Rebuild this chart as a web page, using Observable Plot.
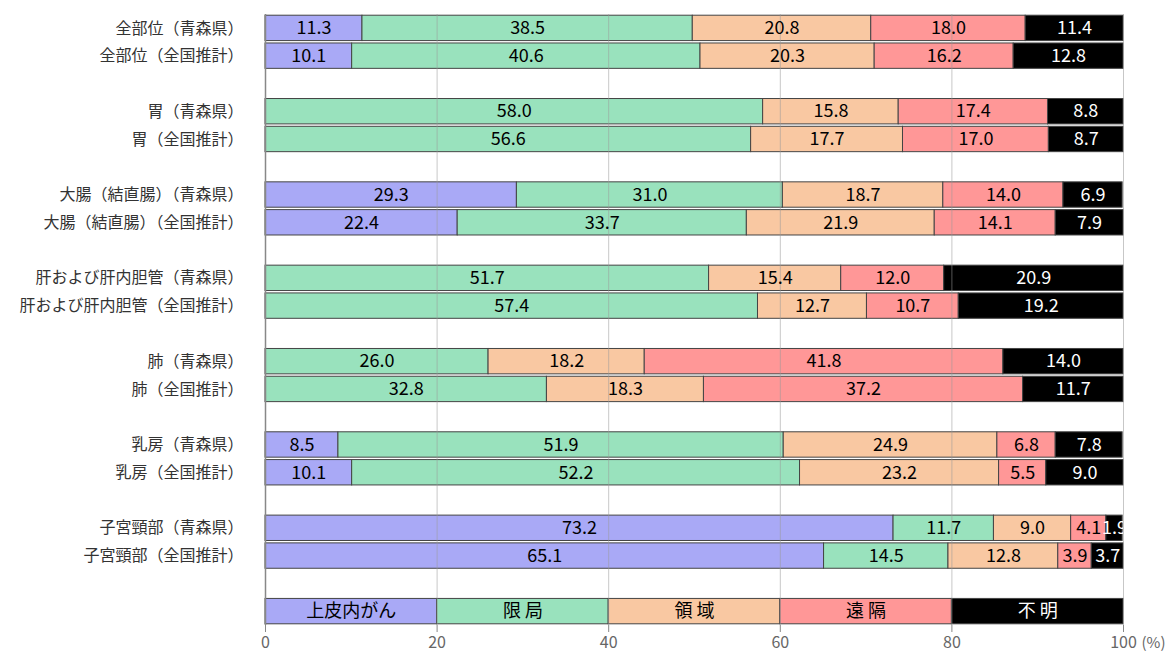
<!DOCTYPE html>
<html><head><meta charset="utf-8">
<script src="https://cdn.jsdelivr.net/npm/d3@7"></script>
<script src="https://cdn.jsdelivr.net/npm/@observablehq/plot@0.6"></script>
<style>
body{margin:0;background:#fff;}
#chart svg{font-family:"Noto Sans CJK JP","Noto Sans",sans-serif;}
</style></head>
<body><div id="chart"></div>
<script>
const rowLabels = ["全部位（青森県）","全部位（全国推計）","胃（青森県）","胃（全国推計）","大腸（結直腸）（青森県）","大腸（結直腸）（全国推計）","肝および肝内胆管（青森県）","肝および肝内胆管（全国推計）","肺（青森県）","肺（全国推計）","乳房（青森県）","乳房（全国推計）","子宮頸部（青森県）","子宮頸部（全国推計）"];
const categories = ["上皮内がん","限局","領域","遠隔","不明"];
const legendLabels = ["上皮内がん","限 局","領 域","遠 隔","不 明"];
const colors = ["#a9a9f6","#99e2bd","#f9c8a2","#ff9797","#000000"];
const epithelial = [11.3,10.1,0,0,29.3,22.4,0,0,0,0,8.5,10.1,73.2,65.1];
const localized  = [38.5,40.6,58.0,56.6,31.0,33.7,51.7,57.4,26.0,32.8,51.9,52.2,11.7,14.5];
const regional   = [20.8,20.3,15.8,17.7,18.7,21.9,15.4,12.7,18.2,18.3,24.9,23.2,9.0,12.8];
const distant    = [18.0,16.2,17.4,17.0,14.0,14.1,12.0,10.7,41.8,37.2,6.8,5.5,4.1,3.9];
const unknown    = [11.4,12.8,8.8,8.7,6.9,7.9,20.9,19.2,14.0,11.7,7.8,9.0,1.9,3.7];
const legendValue = 20;
const xTicks = [0,20,40,60,80,100];

const series = [epithelial, localized, regional, distant, unknown];
// slots: two rows per group, blank slot between groups, blank + legend at the end
const slots = [];
rowLabels.forEach((l, i) => {
  slots.push(l);
  if (i % 2 === 1) slots.push("__gap" + i);
});
slots.push("__legend");

const data = [];
rowLabels.forEach((l, i) => {
  categories.forEach((c, k) => {
    const v = series[k][i];
    if (v > 0) data.push({slot: l, cat: c, value: v, label: v.toFixed(1), color: colors[k], text: c === "不明" ? "white" : "black"});
  });
});
categories.forEach((c, k) => {
  data.push({slot: "__legend", cat: c, value: legendValue, label: legendLabels[k], color: colors[k], text: c === "不明" ? "white" : "black", legend: true});
});

const chart = Plot.plot({
  width: 1174,
  height: 655,
  marginTop: 14,
  marginBottom: 30,
  marginLeft: 265,
  marginRight: 51,
  x: {domain: [0, 100], ticks: xTicks},
  y: {domain: slots, padding: 0, round: false},
  marks: [
    Plot.barX(data, Plot.stackX({x: "value", y: "slot", z: "cat", order: categories, fill: "color", stroke: "#444", strokeWidth: 1, insetTop: 1.2, insetBottom: 1.2})),
    Plot.ruleX(xTicks.slice(1), {stroke: "#999", strokeOpacity: 0.55}),
    Plot.ruleX([0], {stroke: "#888", strokeWidth: 1.5}),
    Plot.textX(data, Plot.stackX({x: "value", y: "slot", z: "cat", order: categories, text: "label", fill: "text", fontSize: 18, clip: true})),
    Plot.axisX({ticks: xTicks, tickSize: 7, tickPadding: 4, fontSize: 16, color: "#666", stroke: "#888", label: null}),
    Plot.text(["(%)"], {x: 100, frameAnchor: "bottom", dy: 22, dx: 30, fontSize: 15, fill: "#666"}),
    Plot.axisY({tickSize: 0, tickPadding: 22, fontSize: 16, color: "#333", label: null, tickFormat: d => d.startsWith("__") ? "" : d})
  ]
});
document.getElementById("chart").appendChild(chart);
</script></body></html>
